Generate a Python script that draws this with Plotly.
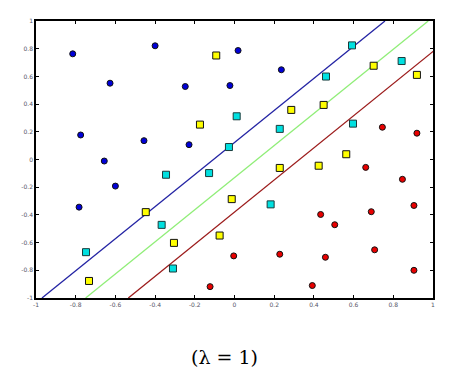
import plotly.graph_objects as go

# Class 1 (blue circles)
blue_x = [-0.815, -0.627, -0.40, -0.248, -0.023, 0.018, -0.775, -0.456, -0.229, -0.656, 0.236, -0.60, -0.783]
blue_y = [0.763, 0.551, 0.821, 0.527, 0.534, 0.787, 0.177, 0.136, 0.107, -0.011, 0.648, -0.192, -0.344]

# Class 2 (red circles)
red_x = [0.745, 0.919, 0.661, 0.846, 0.904, 0.434, 0.689, 0.505, -0.004, 0.228, 0.458, 0.706, 0.904, 0.392, -0.123]
red_y = [0.233, 0.19, -0.057, -0.143, -0.332, -0.397, -0.377, -0.471, -0.696, -0.684, -0.706, -0.652, -0.80, -0.910, -0.918]

# Yellow squares
yel_x = [-0.092, -0.174, 0.286, 0.449, 0.701, 0.919, 0.563, 0.228, 0.424, -0.447, -0.014, -0.305, -0.075, -0.733]
yel_y = [0.751, 0.252, 0.358, 0.394, 0.677, 0.611, 0.038, -0.061, -0.045, -0.38, -0.286, -0.602, -0.549, -0.877]

# Cyan squares
cyan_x = [0.011, -0.028, 0.592, 0.842, 0.461, 0.228, 0.597, 0.182, -0.345, -0.128, -0.367, -0.748, -0.31]
cyan_y = [0.312, 0.090, 0.824, 0.711, 0.599, 0.221, 0.259, -0.324, -0.110, -0.098, -0.472, -0.669, -0.787]

# Boundary lines: x at y=-1 and y=1
line_y = [-1, 1]
blue_line_x = [-0.97, 0.758]
green_line_x = [-0.75, 0.976]
brown_line_x = [-0.535, 1.19]

ticks = [-1, -0.8, -0.6, -0.4, -0.2, 0, 0.2, 0.4, 0.6, 0.8, 1]
tick_text = ["-1", "-0.8", "-0.6", "-0.4", "-0.2", "0", "0.2", "0.4", "0.6", "0.8", "1"]

fig = go.Figure()
fig.add_trace(go.Scatter(x=blue_line_x, y=line_y, mode="lines", line=dict(color="#2424a4", width=1.3)))
fig.add_trace(go.Scatter(x=green_line_x, y=line_y, mode="lines", line=dict(color="#90ee78", width=1.3)))
fig.add_trace(go.Scatter(x=brown_line_x, y=line_y, mode="lines", line=dict(color="#9c1c1c", width=1.3)))

fig.add_trace(go.Scatter(x=blue_x, y=blue_y, mode="markers",
                         marker=dict(symbol="circle", size=6, color="#0000d8", line=dict(color="#111", width=1))))
fig.add_trace(go.Scatter(x=red_x, y=red_y, mode="markers",
                         marker=dict(symbol="circle", size=6, color="#e80000", line=dict(color="#111", width=1))))
fig.add_trace(go.Scatter(x=yel_x, y=yel_y, mode="markers",
                         marker=dict(symbol="square", size=7, color="#ffff00", line=dict(color="#111", width=1))))
fig.add_trace(go.Scatter(x=cyan_x, y=cyan_y, mode="markers",
                         marker=dict(symbol="square", size=7, color="#00e0e0", line=dict(color="#1a3a3a", width=1))))

axis_common = dict(range=[-1, 1], tickvals=ticks, ticktext=tick_text, ticks="inside", ticklen=3,
                   tickcolor="black", showgrid=False, zeroline=False, showline=True, linecolor="black",
                   linewidth=1.5, mirror="ticks", automargin=False,
                   tickfont=dict(size=6, color="#556", family="DejaVu Sans"))

fig.update_layout(
    width=468, height=384,
    margin=dict(l=36, r=35, t=21, b=86),
    paper_bgcolor="white", plot_bgcolor="white",
    showlegend=False,
    xaxis=axis_common,
    yaxis=axis_common,
    annotations=[dict(text="(λ = 1)", x=0.476, y=-0.213, xref="paper", yref="paper",
                      showarrow=False, xanchor="center", yanchor="middle",
                      font=dict(size=19, family="DejaVu Serif", color="black"))],
)

fig.write_html("out.html", config={"displayModeBar": False},
               post_script="document.body.style.margin='0px';document.body.style.padding='0px';")
